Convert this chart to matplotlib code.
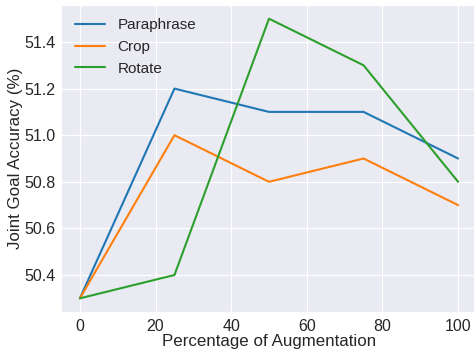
import matplotlib

matplotlib.use("Agg")

import matplotlib.pyplot as plt
import seaborn as sns

sns.set_style("darkgrid")
plt.rcParams["font.family"] = ["Liberation Sans", "DejaVu Sans"]

percent = [0, 25, 50, 75, 100]
paraphrase = [50.3, 51.2, 51.1, 51.1, 50.9]
crop = [50.3, 51.0, 50.8, 50.9, 50.7]
rotate = [50.3, 50.4, 51.5, 51.3, 50.8]

fig = plt.figure(figsize=(4.74, 3.5), dpi=100)
ax = fig.add_axes([61 / 474, 1 - 312.3 / 350, 416 / 474, 307.6 / 350])
ax.plot(percent, paraphrase, label="Paraphrase", linewidth=1.5)
ax.plot(percent, crop, label="Crop", linewidth=1.5)
ax.plot(percent, rotate, label="Rotate", linewidth=1.5)
ax.set_xlabel("Percentage of Augmentation", fontsize=12.2, labelpad=0.5)
ax.set_ylabel("Joint Goal Accuracy (%)", fontsize=12.2, labelpad=1)
ax.tick_params(axis="x", labelsize=11.5, pad=1)
ax.tick_params(axis="y", labelsize=11.5, pad=0.5)
ax.legend(fontsize=11, loc="upper left", frameon=False)
fig.savefig("out.png", dpi=100)
plt.close(fig)
